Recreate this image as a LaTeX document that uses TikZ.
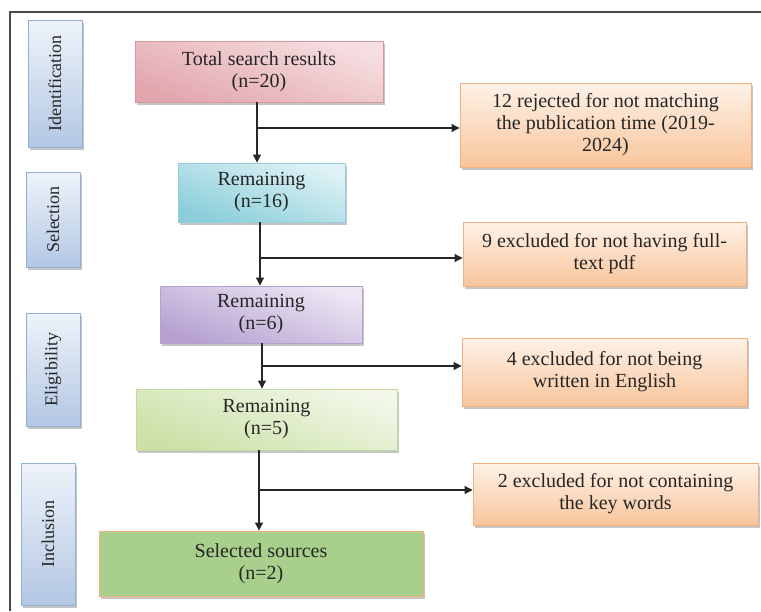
\documentclass[tikz,border=0pt]{standalone}
\usepackage{fontspec}
\setmainfont{Liberation Serif}
\usetikzlibrary{shadows,arrows.meta}
\definecolor{txt}{HTML}{262626}
\definecolor{frame}{HTML}{4A4A4A}
\definecolor{sideT}{HTML}{EEF3FA}
\definecolor{sideB}{HTML}{B3C7E3}
\definecolor{sideD}{HTML}{93AFD3}
\definecolor{orgT}{HTML}{FEF2E8}
\definecolor{orgD}{HTML}{F8C59B}
\definecolor{orgB}{HTML}{F2B080}
\definecolor{pinkT}{HTML}{F6DFE1}
\definecolor{pinkB}{HTML}{E2A6AD}
\definecolor{pinkD}{HTML}{D8979E}
\definecolor{cyanT}{HTML}{DFF2F5}
\definecolor{cyanB}{HTML}{8ACEDA}
\definecolor{cyanD}{HTML}{93CFDA}
\definecolor{purT}{HTML}{EDE7F4}
\definecolor{purB}{HTML}{B6A1D1}
\definecolor{purD}{HTML}{B3A1D0}
\definecolor{grnT}{HTML}{F2F7E9}
\definecolor{grnB}{HTML}{CBE1A6}
\definecolor{grnD}{HTML}{C3D9A0}
\definecolor{selF}{HTML}{A8CF8B}
\tikzset{
  base/.style={draw, line width=0.9pt, inner sep=0pt, align=center, text=txt,
    font=\fontsize{20}{22}\selectfont,
    drop shadow={shadow xshift=2pt, shadow yshift=-2.5pt, fill=black!45, opacity=0.5}},
  side/.style={base, draw=sideD, top color=sideT, bottom color=sideB,
    font=\fontsize{18}{20}\selectfont, minimum width=54pt},
  orangebox/.style={base, draw=orgB, top color=orgT, bottom color=orgD},
  arr/.style={draw=black!85, line width=1.1pt, -{Triangle[length=8pt,width=8pt]}},
}
\begin{document}
\begin{tikzpicture}[x=1pt,y=-1pt]
\useasboundingbox (0,0) rectangle (761,611);
% frame
\draw[frame, line width=2.6pt] (10,611) -- (10,12) -- (761,12);
% side labels
\node[side, minimum height=127pt] (ident) at (55,83.5) {\rotatebox{90}{Identification}};
\node[side, minimum height=95pt] (selc) at (53,219.5) {\rotatebox{90}{Selection}};
\node[side, minimum height=113pt] (elig) at (53,369.5) {\rotatebox{90}{Eligibility}};
\node[side, minimum height=142pt] (incl) at (48,534) {\rotatebox{90}{Inclusion}};
% main flow
\node[base, draw=pinkD, top color=pinkT, bottom color=pinkB, shading angle=-20, minimum width=248pt, minimum height=61pt] (total) at (259,71.5) {Total search results\\(n=20)};
\node[base, draw=cyanD, top color=cyanT, bottom color=cyanB, shading angle=-20, minimum width=167pt, minimum height=59pt] (rem16) at (261.5,192.5) {Remaining\\(n=16)};
\node[base, draw=purD, top color=purT, bottom color=purB, shading angle=-20, minimum width=202pt, minimum height=57pt] (rem6) at (261,314.5) {Remaining\\(n=6)};
\node[base, draw=grnD, top color=grnT, bottom color=grnB, shading angle=-20, minimum width=261pt, minimum height=61pt] (rem5) at (266.5,419.5) {Remaining\\(n=5)};
\node[base, draw=orgB, fill=selF, minimum width=324pt, minimum height=65pt] (sel) at (261,563.5) {Selected sources\\(n=2)};
% exclusion boxes
\node[orangebox, minimum width=291pt, minimum height=84pt] (rej12) at (605.5,125) {12 rejected for not matching\\the publication time (2019-\\2024)};
\node[orangebox, minimum width=283pt, minimum height=64pt] (ex9) at (604.5,254) {9 excluded for not having full-\\text pdf};
\node[orangebox, minimum width=285pt, minimum height=68pt] (ex4) at (604.5,372) {4 excluded for not being\\written in English};
\node[orangebox, minimum width=285pt, minimum height=62pt] (ex2) at (615.5,494) {2 excluded for not containing\\the key words};
% branch points
\coordinate (b1) at (257,128);
\coordinate (b2) at (260,258);
\coordinate (b3) at (262,366);
\coordinate (b4) at (259,490);
% connectors
\draw[arr] (total.south -| b1) -- (rem16.north -| b1);
\draw[arr] (b1) -- (b1 -| rej12.west);
\draw[arr] (rem16.south -| b2) -- (rem6.north -| b2);
\draw[arr] (b2) -- (b2 -| ex9.west);
\draw[arr] (rem6.south -| b3) -- (rem5.north -| b3);
\draw[arr] (b3) -- (b3 -| ex4.west);
\draw[arr] (rem5.south -| b4) -- (sel.north -| b4);
\draw[arr] (b4) -- (b4 -| ex2.west);
\end{tikzpicture}
\end{document}
